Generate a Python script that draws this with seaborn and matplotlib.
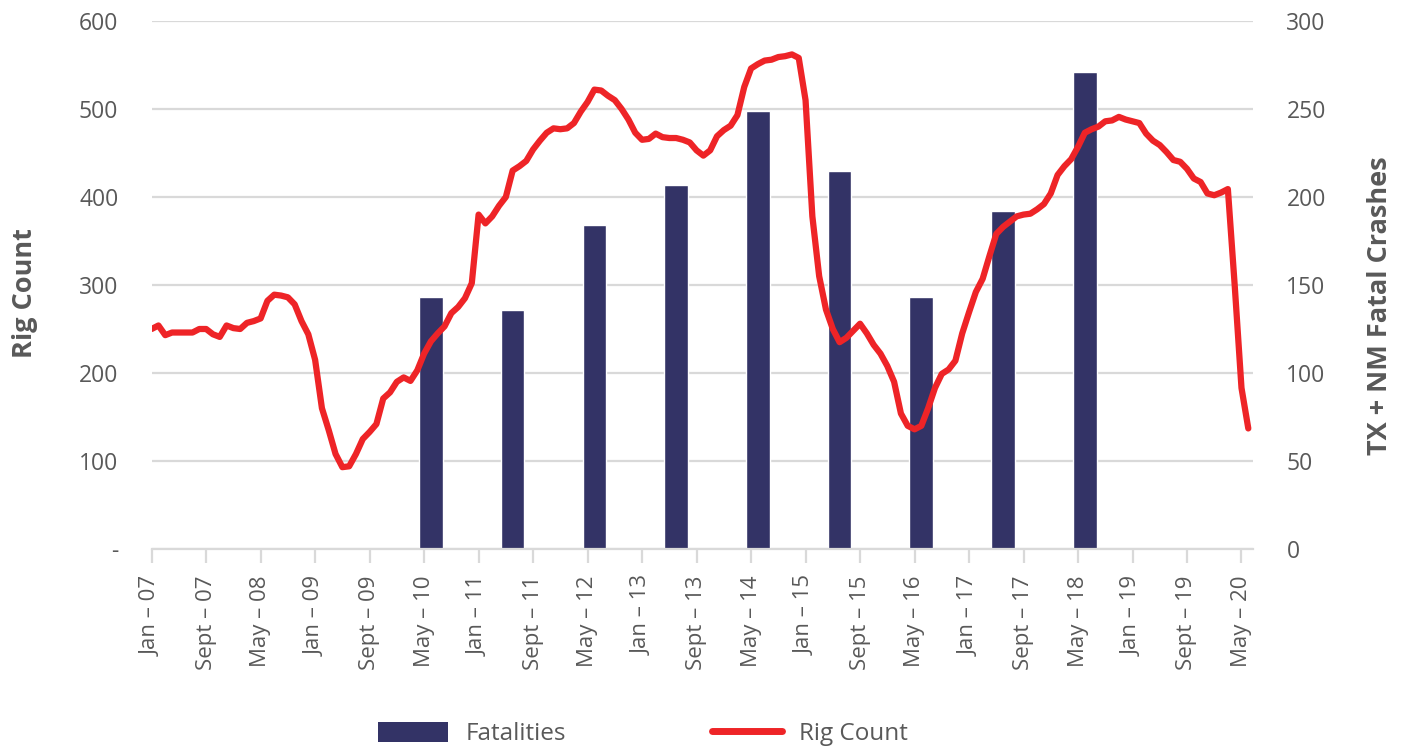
import numpy as np
import pandas as pd
import matplotlib
matplotlib.use("Agg")
import matplotlib.pyplot as plt
from matplotlib.patches import Patch
from matplotlib.lines import Line2D
import seaborn as sns

# monthly rig count, Jan-07 .. Jun-20
rig_count = [
    250, 254, 243, 246, 246, 246, 246, 250, 250, 244,
    241, 254, 251, 250, 257, 259, 262, 282, 289, 288,
    286, 278, 259, 244, 215, 160, 135, 108, 93, 94,
    108, 125, 133, 142, 171, 178, 190, 195, 191, 203,
    222, 236, 245, 253, 268, 275, 285, 302, 380, 370,
    378, 390, 400, 430, 435, 441, 454, 464, 473, 478,
    477, 478, 484, 497, 508, 522, 521, 515, 510, 500,
    488, 473, 465, 466, 472, 468, 467, 467, 465, 462,
    453, 447, 453, 469, 476, 481, 493, 525, 546, 551,
    555, 556, 559, 560, 562, 558, 510, 378, 310, 272,
    250, 235, 240, 248, 256, 245, 232, 222, 208, 190,
    154, 140, 136, 140, 160, 183, 199, 204, 214, 245,
    269, 292, 307, 333, 358, 366, 372, 378, 380, 381,
    386, 392, 404, 425, 435, 443, 457, 473, 477, 480,
    486, 487, 491, 488, 486, 484, 472, 464, 459, 451,
    442, 440, 432, 421, 417, 404, 402, 405, 409, 300,
    183, 137,
]
months = np.arange(len(rig_count))

# yearly fatal crashes, plotted mid-year (June)
crash_years = [2010, 2011, 2012, 2013, 2014, 2015, 2016, 2017, 2018]
fatalities = [143, 136, 184, 207, 249, 215, 143, 192, 271]
crash_month = [(y - 2007) * 12 + 5 for y in crash_years]

tick_labels = ["Jan – 07", "Sept – 07", "May – 08", "Jan – 09", "Sept – 09",
               "May – 10", "Jan – 11", "Sept – 11", "May – 12", "Jan – 13",
               "Sept – 13", "May – 14", "Jan – 15", "Sept – 15", "May – 16",
               "Jan – 17", "Sept – 17", "May – 18", "Jan – 19", "Sept – 19",
               "May – 20"]

line_df = pd.DataFrame({"month": months, "rigs": rig_count})
bar_df = pd.DataFrame({"month": crash_month, "crashes": fatalities})

sns.set_theme(style="white")
plt.rcParams["font.family"] = ["Open Sans", "DejaVu Sans"]
txt = "#595959"
grid_c = "#d9d9d9"
bar_c = "#333366"
red = "#ee2427"

fig = plt.figure(figsize=(14.04, 7.49), dpi=100)
ax = fig.add_axes([0.108, 0.267, 0.7845, 0.705])
ax2 = ax.twinx()

# bars on the right axis (drawn beneath)
sns.barplot(data=bar_df, x="month", y="crashes", native_scale=True, orient="x",
            width=0.29, color=bar_c, saturation=1, ax=ax2, zorder=2)
ax2.set_ylim(0, 300)
ax2.set_yticks(range(0, 301, 50))
ax2.grid(axis="y", color=grid_c, linewidth=1.6)
ax2.grid(axis="x", visible=False)
ax2.set_axisbelow(True)

# line on the left axis, on top
ax.set_zorder(ax2.get_zorder() + 1)
ax.patch.set_visible(False)
sns.lineplot(data=line_df, x="month", y="rigs", color=red, linewidth=4.5, ax=ax)
ax.set_ylim(0, 600)
ax.set_yticks(range(0, 601, 100))
ax.set_yticklabels(["-"] + [str(v) for v in range(100, 601, 100)])
ax.grid(False)

ax.set_xlim(0, 161.7)
ax.set_xticks(range(0, 161, 8))
ax.set_xticklabels(tick_labels, rotation=90)

for a in (ax, ax2):
    for s in a.spines.values():
        s.set_visible(False)
ax2.spines["bottom"].set_visible(True)
ax2.spines["bottom"].set_color(grid_c)
ax2.spines["bottom"].set_linewidth(1.6)
ax2.tick_params(axis="x", bottom=False, labelbottom=False)

ax.tick_params(axis="x", colors=grid_c, labelcolor=txt, labelsize=16,
               length=10, width=1.6, direction="out", pad=9, bottom=True,
               labelbottom=True)
ax.tick_params(axis="y", length=0, labelsize=16.5, labelcolor=txt, pad=24)
ax2.tick_params(axis="y", length=0, labelsize=16.5, labelcolor=txt, pad=24)

ax.set_xlabel("")
ax.set_ylabel("Rig Count", fontsize=19.5, fontweight="bold", color=txt)
ax.yaxis.set_label_coords(-0.103, 0.485)
ax2.set_xlabel("")
ax2.set_ylabel("TX + NM Fatal Crashes", fontsize=19.5, fontweight="bold", color=txt)
ax2.yaxis.set_label_coords(1.1035, 0.46)

handles = [Patch(facecolor=bar_c, edgecolor="none"),
           Line2D([0], [0], color=red, linewidth=5, solid_capstyle="round")]
fig.legend(handles, ["Fatalities", "Rig Count"], loc="center",
           bbox_to_anchor=(0.458, 0.02), ncol=2, frameon=False,
           fontsize=17.5, labelcolor=txt, handlelength=2.9, handleheight=0.9,
           columnspacing=6.0, handletextpad=0.7)

fig.savefig("out.png", dpi=100, facecolor="white")
